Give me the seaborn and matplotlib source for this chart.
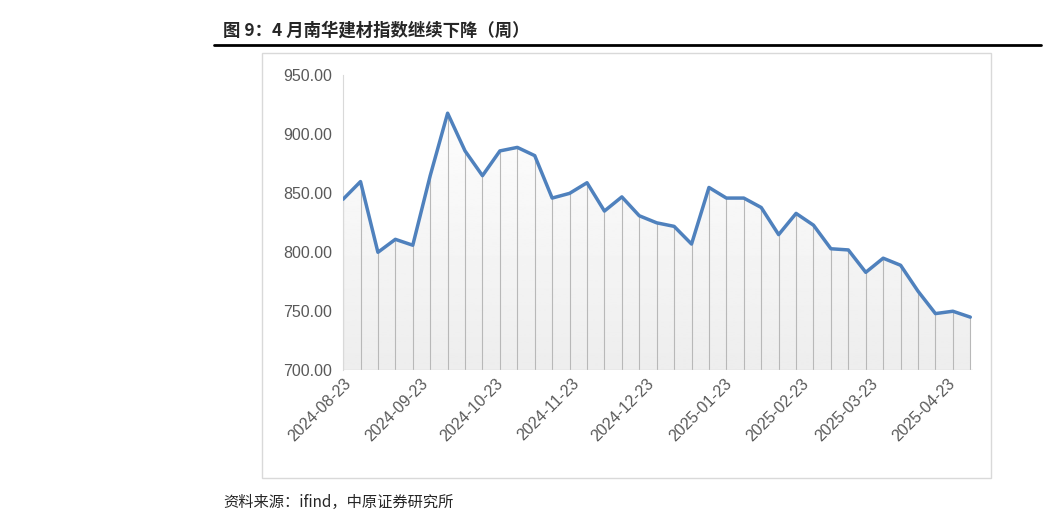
import numpy as np
import pandas as pd
import matplotlib
matplotlib.use("Agg")
import matplotlib.pyplot as plt
import matplotlib.dates as mdates
from matplotlib.patches import Rectangle
import seaborn as sns

sns.set_style("white")
plt.rcParams['font.family'] = ['Noto Sans CJK SC', 'DejaVu Sans']

dates = pd.date_range("2024-08-23", periods=37, freq="7D")
values = [845, 860, 800, 811, 806, 865, 918, 886, 865, 886, 889, 882, 846, 850,
          859, 835, 847, 831, 825, 822, 807, 855, 846, 846, 838, 815, 833, 823,
          803, 802, 783, 795, 789, 767, 748, 750, 745]
tick_dates = pd.to_datetime(["2024-08-23", "2024-09-23", "2024-10-23", "2024-11-23",
                             "2024-12-23", "2025-01-23", "2025-02-23", "2025-03-23",
                             "2025-04-23"])
df = pd.DataFrame({"date": dates, "value": values})

fig = plt.figure(figsize=(10.46, 5.17), dpi=100)
fig.text(0.213, 0.94, "图 9：4 月南华建材指数继续下降（周）", fontsize=12.5, fontweight="bold", va="center")
fig.add_artist(plt.Line2D([0.205, 0.995], [0.912, 0.912], color="black", lw=2))
fig.add_artist(Rectangle((0.25, 0.075), 0.697, 0.823, fill=False, ec="#d9d9d9", lw=1))
fig.text(0.213, 0.028, "资料来源：ifind，中原证券研究所", fontsize=11, va="center")

ax = fig.add_axes([0.328, 0.284, 0.602, 0.57])
sns.lineplot(data=df, x="date", y="value", ax=ax, color="#4f81bd", lw=2.5, zorder=3)

# light gradient fill under the line
xn = mdates.date2num(dates)
poly = ax.fill_between(dates, 700, values, color="none")
grad = np.linspace(0.93, 1.0, 256).reshape(-1, 1)
im = ax.imshow(grad, cmap="gray", vmin=0, vmax=1, aspect="auto",
               extent=[xn[0], xn[-1], 700, 950], origin="lower", zorder=1)
im.set_clip_path(poly.get_paths()[0], transform=ax.transData)
ax.vlines(dates, 700, values, color="#b8b8b8", lw=0.8, zorder=2)

ax.set_ylim(700, 950)
ax.set_yticks(np.arange(700, 951, 50))
ax.yaxis.set_major_formatter(matplotlib.ticker.FormatStrFormatter("%.2f"))
ax.set_xlim(xn[0], xn[-1] + 1)
ax.set_xticks(tick_dates)
ax.xaxis.set_major_formatter(mdates.DateFormatter("%Y-%m-%d"))
ax.tick_params(axis="x", rotation=45, labelsize=11.5, colors="#595959", length=0, pad=4)
ax.tick_params(axis="y", labelsize=11.5, colors="#595959", length=0, pad=8)
for lab in ax.get_xticklabels() + ax.get_yticklabels():
    lab.set_family("Liberation Sans")
for lab in ax.get_xticklabels():
    lab.set_ha("right")
    lab.set_rotation_mode("anchor")
ax.set_xlabel("")
ax.set_ylabel("")
for s in ["top", "right", "bottom"]:
    ax.spines[s].set_visible(False)
ax.spines["left"].set_color("#d9d9d9")
ax.axhline(700, color="#d9d9d9", lw=1)

fig.savefig("out.png", dpi=100)
